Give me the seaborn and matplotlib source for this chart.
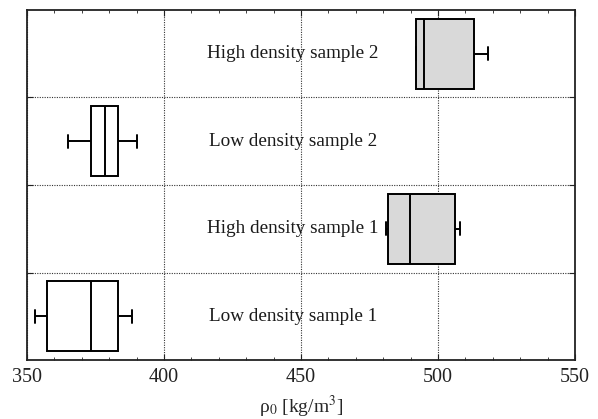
import numpy as np
import pandas as pd
import matplotlib
matplotlib.use("Agg")
import matplotlib.pyplot as plt
from matplotlib.ticker import MultipleLocator, FixedLocator, NullFormatter
import seaborn as sns

# Five-number summaries of the bulk density for each sample (kg/m^3)
categories = ["High density sample 2", "Low density sample 2",
              "High density sample 1", "Low density sample 1"]
whisker_low = [491.9, 365.1, 481.0, 352.9]
q1 = [491.9, 373.2, 481.9, 357.2]
median = [494.9, 378.5, 489.8, 373.2]
q3 = [513.1, 383.3, 506.2, 383.3]
whisker_high = [518.1, 390.0, 508.0, 388.4]
fills = ["#d9d9d9", "#ffffff", "#d9d9d9", "#ffffff"]

rows = []
for i, cat in enumerate(categories):
    for v in (whisker_low[i], q1[i], median[i], q3[i], whisker_high[i]):
        rows.append({"sample": cat, "rho": v})
df = pd.DataFrame(rows)

sns.set_style("ticks")
plt.rcParams["font.family"] = ["Liberation Serif", "DejaVu Serif"]
plt.rcParams["mathtext.fontset"] = "stix"

fig = plt.figure(figsize=(5.98, 4.19), dpi=100)
ax = fig.add_axes([27 / 598, 1 - 360 / 419, (575 - 27) / 598, (360 - 10) / 419])

sns.boxplot(data=df, x="rho", y="sample", hue="sample", order=categories,
            hue_order=categories, palette=dict(zip(categories, fills)),
            saturation=1, width=0.8, whis=3.0, linecolor="black",
            linewidth=1.4, legend=False, ax=ax, capwidths=0.15,
            showfliers=False)

ax.set_xlim(350, 550)
ax.set_ylim(3.5, -0.5)

for i, cat in enumerate(categories):
    ax.text(447, i, cat, ha="center", va="center", fontsize=13.8, color="#1a1a1a")

ax.xaxis.set_major_locator(MultipleLocator(50))
ax.xaxis.set_minor_locator(MultipleLocator(10))
ax.yaxis.set_major_locator(FixedLocator([0.5, 1.5, 2.5]))
ax.yaxis.set_major_formatter(NullFormatter())
ax.set_ylabel("")
ax.tick_params(axis="both", which="both", direction="in", top=True, right=True,
               colors="#222222")
ax.tick_params(axis="x", which="major", length=4, labelsize=14.5, pad=6)
ax.tick_params(axis="x", which="minor", length=2.5)
ax.tick_params(axis="y", which="major", length=4)

ax.grid(True, which="major", axis="both", linestyle=(0, (1, 1.2)),
        color="#333333", linewidth=0.8)
ax.set_axisbelow(True)
for s in ax.spines.values():
    s.set_visible(True)
    s.set_linewidth(1.3)
    s.set_color("#222222")

ax.set_xlabel("ρ$_0$ [kg/m$^3$]", fontsize=14, labelpad=5)

fig.savefig("out.png", dpi=100)
